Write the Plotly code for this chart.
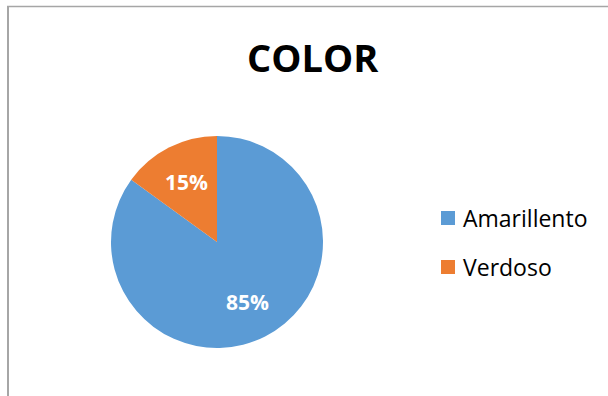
import math
import plotly.graph_objects as go

# Chart data
categories = ["Amarillento", "Verdoso"]
shares = [85, 15]
colors = ["#5B9BD5", "#ED7D31"]
title_text = "COLOR"

W, H = 608, 396
FONT = "Open Sans"

# pie geometry in pixels
CX, CY, R = 217, 242, 106

fig = go.Figure()

fig.add_trace(go.Pie(
    labels=categories,
    values=shares,
    sort=False,
    direction="clockwise",
    rotation=0,
    marker=dict(colors=colors, line=dict(width=0)),
    textinfo="none",
    domain=dict(x=[(CX - R) / W, (CX + R) / W], y=[(H - CY - R) / H, (H - CY + R) / H]),
    showlegend=False,
    hoverinfo="label+percent",
))

shapes = [
    # chart-area frame: top and left edges
    dict(type="line", xref="paper", yref="paper", x0=7 / W, x1=1, y0=1 - 6.5 / H, y1=1 - 6.5 / H,
         line=dict(color="#A6A6A6", width=1.5)),
    dict(type="line", xref="paper", yref="paper", x0=8 / W, x1=8 / W, y0=0, y1=1 - 6 / H,
         line=dict(color="#A6A6A6", width=2)),
]
annotations = [
    dict(text=f"<b>{title_text}</b>", xref="paper", yref="paper", x=313 / W, y=(H - 57) / H,
         xanchor="center", yanchor="middle", showarrow=False,
         font=dict(family=FONT, size=38, color="black")),
]

# Percentage labels placed on each slice's bisector
total = sum(shares)
start = 0.0
for val in shares:
    frac = val / total
    mid = (start + frac / 2) * 2 * math.pi  # clockwise from 12 o'clock
    start += frac
    px = CX + 0.64 * R * math.sin(mid)
    py = CY - 0.64 * R * math.cos(mid)
    annotations.append(dict(text=f"<b>{round(frac * 100)}%</b>", xref="paper", yref="paper",
                            x=px / W, y=(H - py) / H, xanchor="center", yanchor="middle",
                            showarrow=False, font=dict(family=FONT, size=21, color="white")))

# Legend drawn as swatches with labels
legend_rows = [218, 267]
for name, col, yc in zip(categories, colors, legend_rows):
    shapes.append(dict(type="rect", xref="paper", yref="paper",
                       x0=441 / W, x1=455 / W, y0=(H - yc - 7) / H, y1=(H - yc + 7) / H,
                       fillcolor=col, line=dict(width=0)))
    annotations.append(dict(text=name, xref="paper", yref="paper", x=461 / W, y=(H - yc) / H,
                            xanchor="left", yanchor="middle", showarrow=False,
                            font=dict(family=FONT, size=23, color="black")))

fig.update_layout(
    width=W, height=H,
    margin=dict(l=0, r=0, t=0, b=0),
    paper_bgcolor="white",
    plot_bgcolor="white",
    shapes=shapes,
    annotations=annotations,
)

fig.write_html("out.html")
